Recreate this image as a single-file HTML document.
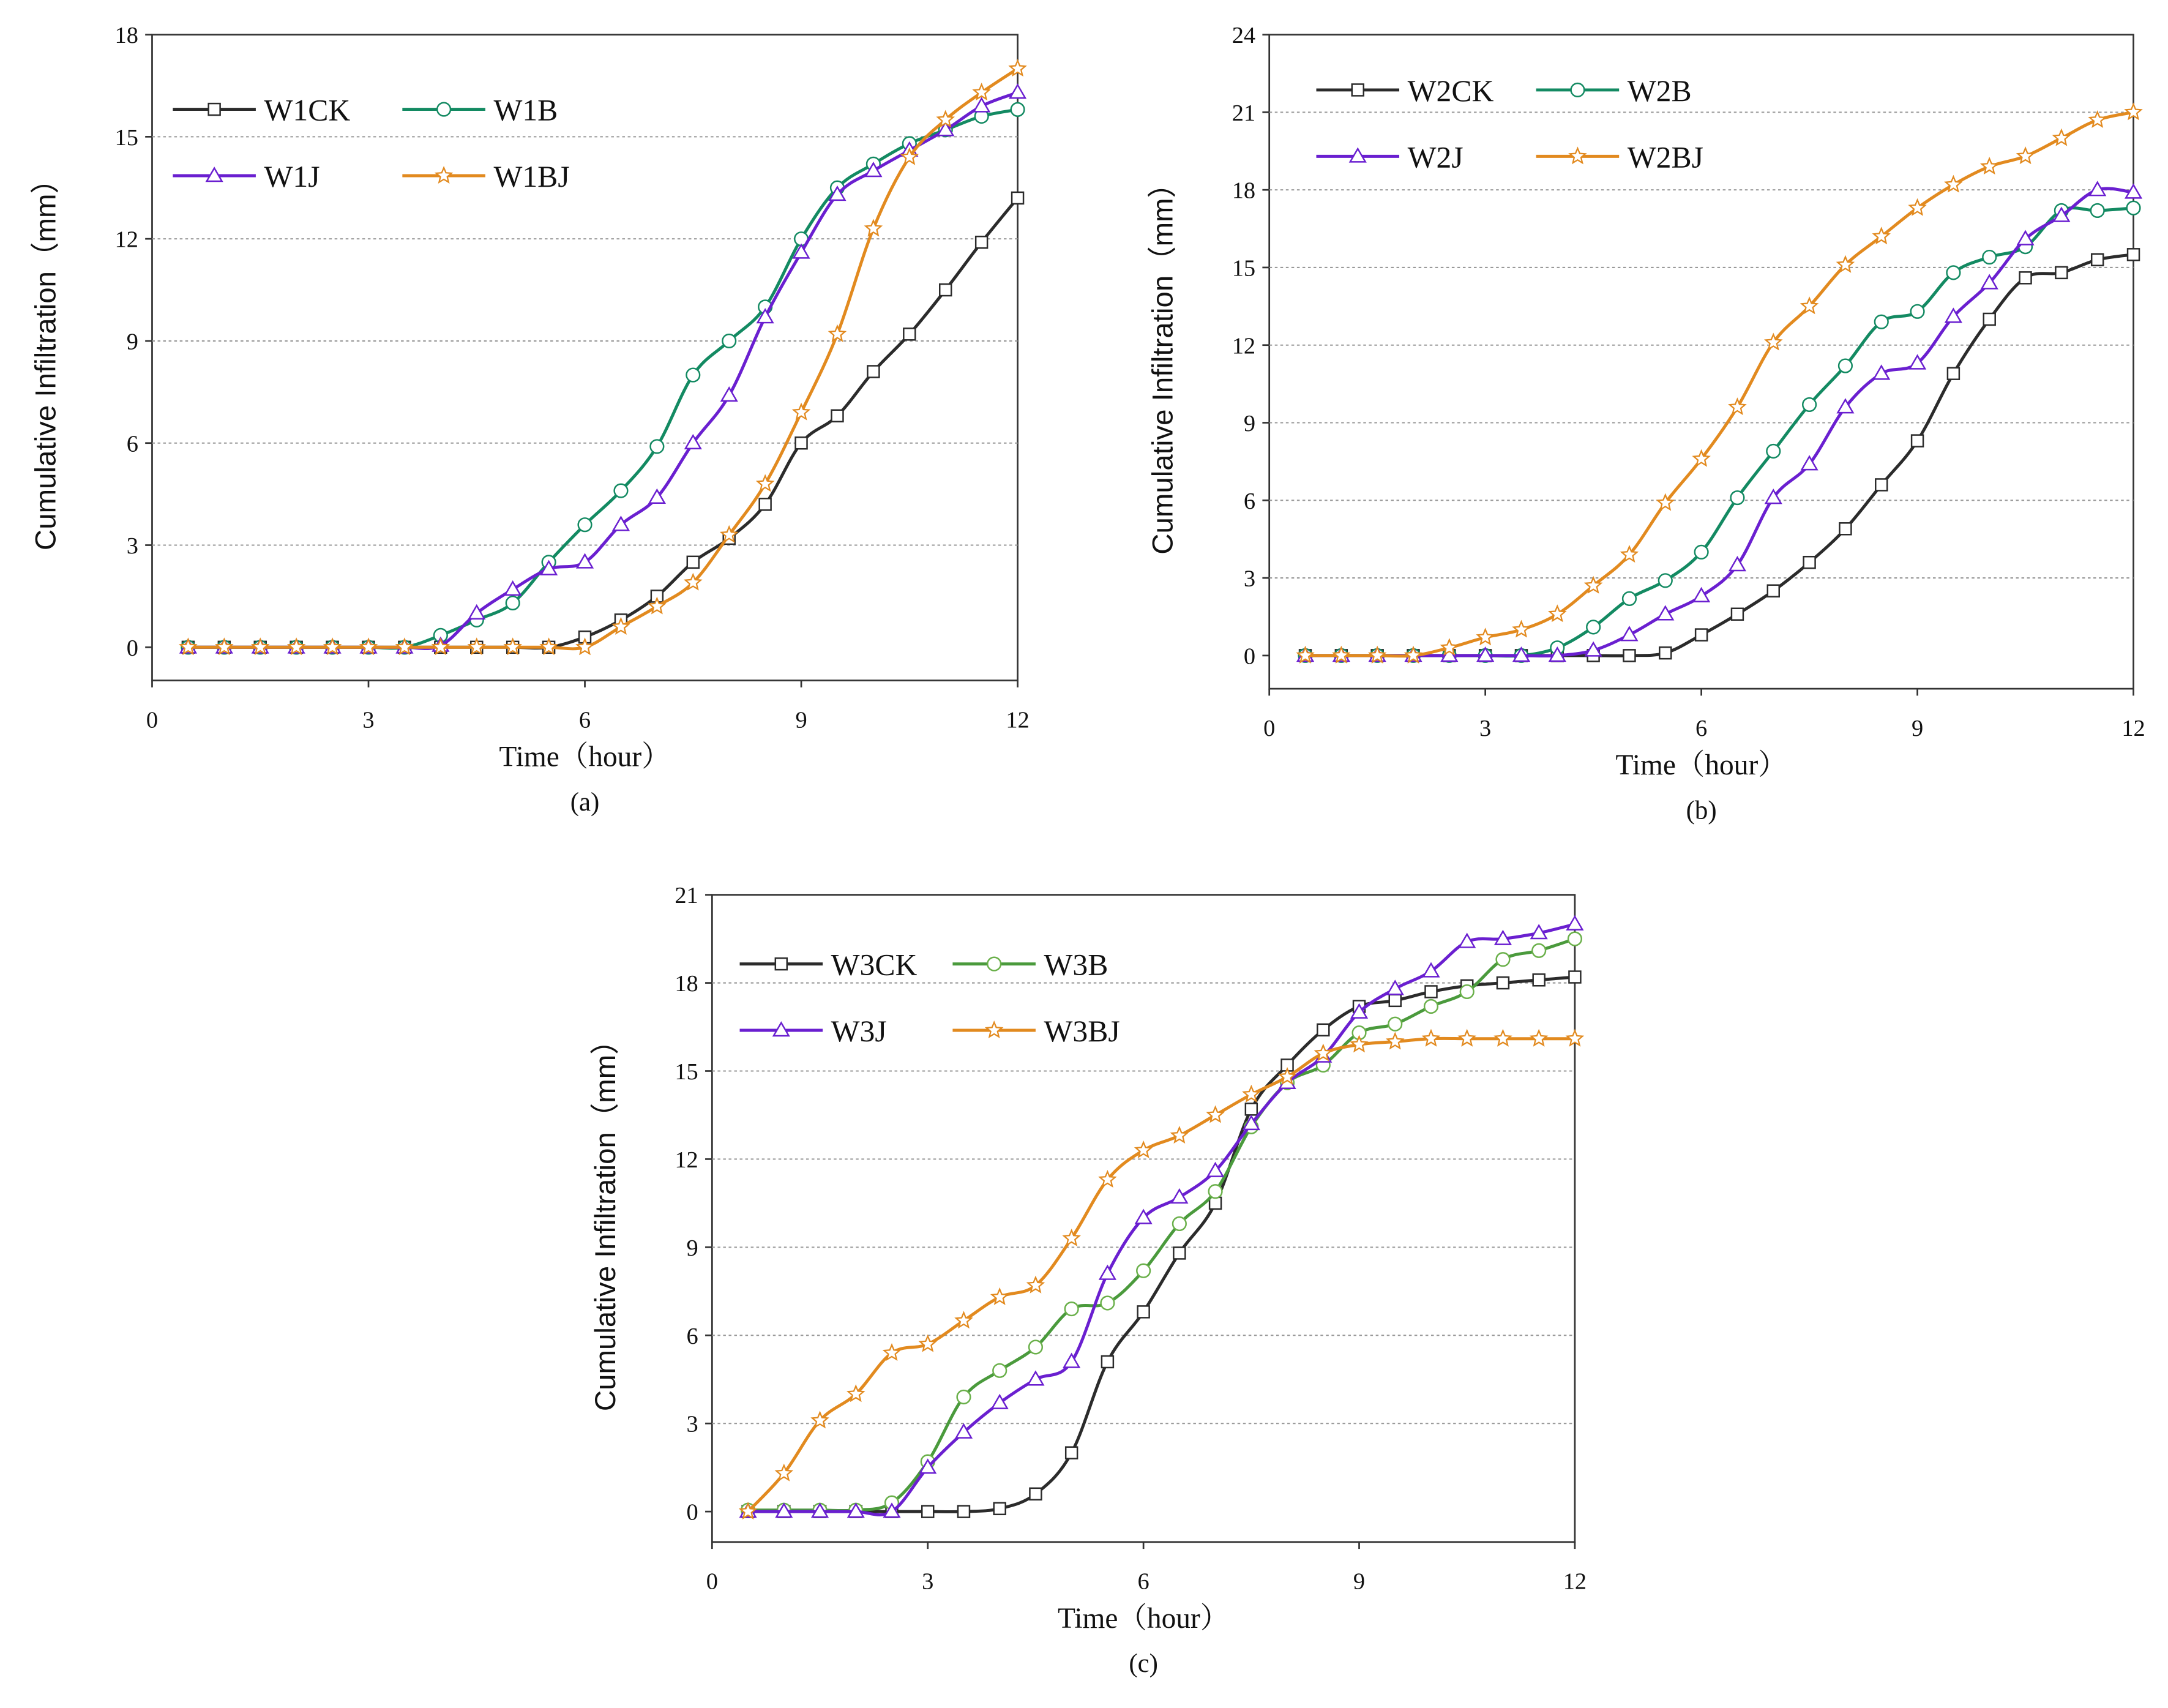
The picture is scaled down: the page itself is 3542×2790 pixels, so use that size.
<!DOCTYPE html>
<html><head><meta charset="utf-8"><style>
html,body{margin:0;padding:0;background:#fff}
svg{display:block}
text{font-family:"Liberation Serif","Noto Serif CJK SC",serif;fill:#111}
</style></head><body>
<svg id="fig" width="3542" height="2790" viewBox="0 0 1568 1235" xmlns="http://www.w3.org/2000/svg"></svg>
<script>
const times=[0.5,1,1.5,2,2.5,3,3.5,4,4.5,5,5.5,6,6.5,7,7.5,8,8.5,9,9.5,10,10.5,11,11.5,12];
const xTicks=[0,3,6,9,12];
const yTicksA=[0,3,6,9,12,15,18];
const yTicksB=[0,3,6,9,12,15,18,21,24];
const yTicksC=[0,3,6,9,12,15,18,21];
const w1ck=[0,0,0,0,0,0,0,0,0,0,0,0.3,0.8,1.5,2.5,3.2,4.2,6.0,6.8,8.1,9.2,10.5,11.9,13.2];
const w1b=[0,0,0,0,0,0,0,0.35,0.8,1.3,2.5,3.6,4.6,5.9,8.0,9.0,10.0,12.0,13.5,14.2,14.8,15.2,15.6,15.8];
const w1j=[0,0,0,0,0,0,0,0.05,1.0,1.7,2.3,2.5,3.6,4.4,6.0,7.4,9.7,11.6,13.3,14.0,14.6,15.2,15.9,16.3];
const w1bj=[0,0,0,0,0,0,0,0,0,0,0,0,0.6,1.2,1.9,3.3,4.8,6.9,9.2,12.3,14.4,15.5,16.3,17.0];
const w2ck=[0,0,0,0,0,0,0,0,0,0,0.1,0.8,1.6,2.5,3.6,4.9,6.6,8.3,10.9,13.0,14.6,14.8,15.3,15.5];
const w2b=[0,0,0,0,0,0,0,0.3,1.1,2.2,2.9,4.0,6.1,7.9,9.7,11.2,12.9,13.3,14.8,15.4,15.8,17.2,17.2,17.3];
const w2j=[0,0,0,0,0,0,0,0,0.2,0.8,1.6,2.3,3.5,6.1,7.4,9.6,10.9,11.3,13.1,14.4,16.1,17.0,18.0,17.9];
const w2bj=[0,0,0,0,0.3,0.7,1.0,1.6,2.7,3.9,5.9,7.6,9.6,12.1,13.5,15.1,16.2,17.3,18.2,18.9,19.3,20.0,20.7,21.0];
const w3ck=[0,0,0,0,0,0,0,0.1,0.6,2.0,5.1,6.8,8.8,10.5,13.7,15.2,16.4,17.2,17.4,17.7,17.9,18.0,18.1,18.2];
const w3b=[0.05,0.05,0.05,0.05,0.3,1.7,3.9,4.8,5.6,6.9,7.1,8.2,9.8,10.9,13.1,14.6,15.2,16.3,16.6,17.2,17.7,18.8,19.1,19.5];
const w3j=[0,0,0,0,0,1.5,2.7,3.7,4.5,5.1,8.1,10.0,10.7,11.6,13.2,14.6,15.5,17.0,17.8,18.4,19.4,19.5,19.7,20.0];
const w3bj=[0,1.3,3.1,4.0,5.4,5.7,6.5,7.3,7.7,9.3,11.3,12.3,12.8,13.5,14.2,14.8,15.6,15.9,16.0,16.1,16.1,16.1,16.1,16.1];

const NS="http://www.w3.org/2000/svg";
const svg=document.getElementById('fig');
function mk(tag,attrs,parent){const e=document.createElementNS(NS,tag);for(const k in attrs)e.setAttribute(k,attrs[k]);(parent||svg).appendChild(e);return e;}
function star(cx,cy,r){let p=[];for(let i=0;i<10;i++){const a=-Math.PI/2+i*Math.PI/5;const rr=i%2?r*0.45:r;p.push((cx+rr*Math.cos(a)).toFixed(2)+','+(cy+rr*Math.sin(a)).toFixed(2));}return p.join(' ');}
function smooth(P){
  let d='M'+P[0][0].toFixed(2)+','+P[0][1].toFixed(2);
  const t=0.17;
  for(let i=0;i<P.length-1;i++){
    const p0=P[Math.max(0,i-1)],p1=P[i],p2=P[i+1],p3=P[Math.min(P.length-1,i+2)];
    const c1x=p1[0]+(p2[0]-p0[0])*t,c1y=p1[1]+(p2[1]-p0[1])*t;
    const c2x=p2[0]-(p3[0]-p1[0])*t,c2y=p2[1]-(p3[1]-p1[1])*t;
    d+=` C${c1x.toFixed(2)},${c1y.toFixed(2)} ${c2x.toFixed(2)},${c2y.toFixed(2)} ${p2[0].toFixed(2)},${p2[1].toFixed(2)}`;
  }
  return d;
}
function marker(g,type,x,y,color){
  let m;
  if(type==='sq')m=mk('rect',{x:x-4.2,y:y-4.2,width:8.4,height:8.4,fill:'#fff',stroke:color,'stroke-width':1.1},g);
  else if(type==='ci')m=mk('circle',{cx:x,cy:y,r:4.8,fill:'#fff',stroke:color,'stroke-width':1.1},g);
  else if(type==='tr')m=mk('polygon',{points:`${x},${y-5.5} ${x-5.5},${y+4} ${x+5.5},${y+4}`,fill:'#fff',stroke:color,'stroke-width':1.1},g);
  else m=mk('polygon',{points:star(x,y,5.8),fill:'#fff',stroke:color,'stroke-width':1},g);
  
  
}
function panel(cfg){
  const g=mk('g',{});
  
  
  const X=v=>cfg.x0+(cfg.x1-cfg.x0)*v/12;
  const Y=v=>cfg.y0-(cfg.y0-cfg.y1)*v/cfg.ymax;
  const fr=mk('rect',{x:cfg.x0,y:cfg.y1,width:cfg.x1-cfg.x0,height:cfg.bot-cfg.y1,fill:'none',stroke:'#333','stroke-width':1.2},g);
  
  
  cfg.yt.forEach(t=>{
    const y=Y(t);
    if(t>0&&t<cfg.ymax){const gl=mk('line',{x1:cfg.x0,x2:cfg.x1,y1:y,y2:y,stroke:'#999','stroke-width':0.9,'stroke-dasharray':'2,2'},g);
      }
    mk('line',{x1:cfg.x0-5,x2:cfg.x0,y1:y,y2:y,stroke:'#333','stroke-width':1.2},g);
    const tl=mk('text',{x:cfg.x0-10,y:y+6,'text-anchor':'end','font-size':17},g);tl.textContent=t;
    
  });
  xTicks.forEach(t=>{
    const x=X(t);
    mk('line',{x1:x,x2:x,y1:cfg.bot,y2:cfg.bot+5,stroke:'#333','stroke-width':1.2},g);
    const tl=mk('text',{x:x,y:cfg.bot+34,'text-anchor':'middle','font-size':17},g);tl.textContent=t;
    
  });
  const cx=(cfg.x0+cfg.x1)/2;
  const xt=mk('text',{x:cx,y:cfg.bot+62,'text-anchor':'middle','font-size':21},g);xt.textContent='Time（hour）';
  
  const cap=mk('text',{x:cx,y:cfg.bot+94,'text-anchor':'middle','font-size':19},g);cap.textContent=cfg.cap;
  
  const ym=(cfg.y1+cfg.bot)/2;
  const yt=mk('text',{x:0,y:0,'text-anchor':'middle','font-size':21,'style':'font-family:"Liberation Sans","Noto Sans CJK SC",sans-serif',transform:`translate(${cfg.x0-70},${ym}) rotate(-90)`},g);
  yt.textContent='Cumulative Infiltration（mm）';
  
  cfg.series.forEach(s=>{
    const P=times.map((t,i)=>[X(t),Y(s.v[i])]);
    const pl=mk('path',{d:smooth(P),fill:'none',stroke:s.c,'stroke-width':2.2},g);
    
    
    times.forEach((t,i)=>marker(g,s.m,X(t),Y(s.v[i]),s.mc||s.c));
  });
  cfg.series.forEach((s,i)=>{
    const lx=cfg.lx[i%2],ly=cfg.ly[Math.floor(i/2)];
    const lg=mk('g',{},g);
    
    
    mk('line',{x1:lx,x2:lx+60,y1:ly,y2:ly,stroke:s.c,'stroke-width':2.2},lg);
    marker(lg,s.m,lx+30,ly,s.mc||s.c);
    const tx=mk('text',{x:lx+66,y:ly+8,'font-size':22},lg);tx.textContent=s.n;
  });
}
panel({id:'a',cap:'(a)',x0:110,x1:736,y0:468,y1:25,bot:492,ymax:18,yt:yTicksA,lx:[125,291],ly:[79,127],
 series:[{n:'W1CK',v:w1ck,c:'#2b2b2b',m:'sq'},{n:'W1B',v:w1b,c:'#138a62',m:'ci'},{n:'W1J',v:w1j,c:'#6a1fd0',m:'tr'},{n:'W1BJ',v:w1bj,c:'#e28a1f',m:'st'}]});
panel({id:'b',cap:'(b)',x0:918,x1:1543,y0:474,y1:25,bot:498,ymax:24,yt:yTicksB,lx:[952,1111],ly:[65,113],
 series:[{n:'W2CK',v:w2ck,c:'#2b2b2b',m:'sq'},{n:'W2B',v:w2b,c:'#138a62',m:'ci'},{n:'W2J',v:w2j,c:'#6a1fd0',m:'tr'},{n:'W2BJ',v:w2bj,c:'#e28a1f',m:'st'}]});
panel({id:'c',cap:'(c)',x0:515,x1:1139,y0:1093,y1:647,bot:1115,ymax:21,yt:yTicksC,lx:[535,689],ly:[697,745],
 series:[{n:'W3CK',v:w3ck,c:'#2b2b2b',m:'sq'},{n:'W3B',v:w3b,c:'#4a9a3c',m:'ci',mc:'#6ab04a'},{n:'W3J',v:w3j,c:'#6a1fd0',m:'tr'},{n:'W3BJ',v:w3bj,c:'#e28a1f',m:'st'}]});
</script>
</body></html>
